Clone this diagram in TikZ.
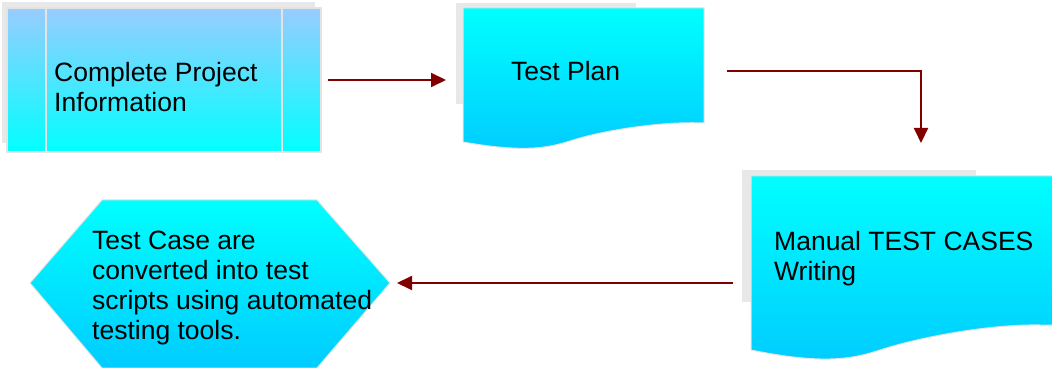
\documentclass[tikz,border=0pt]{standalone}
\usepackage{fontspec}
\setmainfont{Liberation Sans}
\usetikzlibrary{arrows.meta}
\definecolor{sky}{HTML}{99CCFF}
\definecolor{aqua}{HTML}{00FFFF}
\definecolor{deepaqua}{HTML}{00CCFF}
\definecolor{shadowgray}{HTML}{E8E8E8}
\definecolor{edgegray}{HTML}{E4E4E4}
\definecolor{arrowred}{HTML}{800000}
\tikzset{
  shadowbox/.style={fill=shadowgray, draw=none},
  procbox/.style={top color=sky, bottom color=aqua, draw=edgegray, line width=1.2pt},
  docbox/.style={top color=aqua, bottom color=deepaqua, draw=edgegray, line width=1pt},
  lbl/.style={anchor=base west, inner sep=0pt, align=left, font=\fontsize{26.5}{30}\selectfont},
  conn/.style={draw=arrowred, line width=2pt, -{Triangle[length=15pt,width=14pt]}}
}
\begin{document}
\begin{tikzpicture}[x=1pt,y=1pt]
\useasboundingbox (0,0) rectangle (1052,367);
% Box 1: predefined process
\fill[shadowbox] (2,365) rectangle (315,224);
\path[procbox] (7,359) rectangle (321,215);
\draw[edgegray, line width=1.5pt] (46,359) -- (46,215);
\draw[edgegray, line width=1.5pt] (282,359) -- (282,215);
\node[lbl] (info) at (54,255) {Complete Project\\Information};
% Box 2: document
\fill[shadowbox] (456,364) rectangle (636,263);
\path[docbox] (463,359) -- (704,359) -- (704,244)
  .. controls (660,246) and (600,236) .. (570,226)
  .. controls (545,218) and (520,215) .. (463,225) -- cycle;
\node[lbl] (plan) at (511,286) {Test Plan};
% Box 3: document
\fill[shadowbox] (742,197) rectangle (976,65);
\path[docbox] (751,191) -- (1053,191) -- (1053,42) -- (1040,42)
  .. controls (990,43) and (920,30) .. (880,17)
  .. controls (850,7) and (820,3) .. (751,17) -- cycle;
\node[lbl] (manual) at (774,86) {Manual TEST CASES\\Writing};
% Hexagon
\path[docbox] (30,84) -- (102,167) -- (317,167) -- (390,84) -- (317,-1) -- (102,-1) -- cycle;
\node[lbl] (auto) at (92,28) {Test Case are\\converted into test\\scripts using automated\\testing tools.};
% connectors
\coordinate (a1s) at (328,287);
\coordinate (a1e) at (446,287);
\coordinate (a2s) at (727,296);
\coordinate (a2e) at (921,224);
\coordinate (a3s) at (733,84);
\coordinate (a3e) at (397,84);
\draw[conn] (a1s) -- (a1e);
\draw[conn] (a2s) -| (a2e);
\draw[conn] (a3s) -- (a3e);
\end{tikzpicture}
\end{document}
